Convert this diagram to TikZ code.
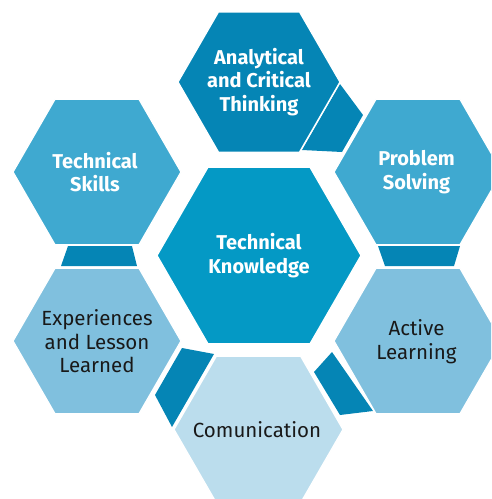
\documentclass[tikz,border=0pt]{standalone}
\usepackage{fontspec}
\setmainfont{Fira Sans}
\usetikzlibrary{shapes.geometric}
\definecolor{cDark}{HTML}{0585B5}
\definecolor{cCenter}{HTML}{0499C5}
\definecolor{cMid}{HTML}{3FA9D0}
\definecolor{cLight}{HTML}{80C0DE}
\definecolor{cPale}{HTML}{BBDDED}
\begin{document}
\begin{tikzpicture}[x=1pt,y=-1pt,
  hexa/.style={regular polygon, regular polygon sides=6,
    minimum size=#1, inner sep=0pt, draw=white, line width=1.3pt},
  boldtxt/.style={text=white, align=center, inner sep=0pt,
    font=\fontsize{20}{23.5}\selectfont\bfseries},
  plaintxt/.style={text=black!90, align=center, inner sep=0pt,
    font=\fontsize{20.5}{23.5}\selectfont},
  link/.style={fill=cDark}]
\useasboundingbox (0,0) rectangle (491,499);
\clip (0,0) rectangle (491,499);
% connectors
\fill[link] (340,84) -- (363,115) -- (342,152) -- (302,150) -- cycle;
\fill[link] (68,246) -- (132,246) -- (137,266) -- (61,266) -- cycle;
\fill[link] (378,246) -- (460,246) -- (454,266) -- (385,266) -- cycle;
\fill[link] (182,348) -- (214,354) -- (172,427) -- (155,395) -- cycle;
\fill[link] (332,352) -- (373,411) -- (340,415) -- (314,372) -- cycle;
% hexagons
\node[hexa=162, fill=cDark] (an) at (259,82) {};
\node[hexa=168, fill=cMid] (ts) at (97,172) {};
\node[hexa=168, fill=cMid] (ps) at (418,172) {};
\node[hexa=204, fill=cCenter] (tk) at (259,255.5) {};
\node[hexa=168, fill=cLight] (ex) at (97,341) {};
\node[hexa=168, fill=cLight] (al) at (418,341) {};
\node[hexa=169, fill=cPale] (co) at (258.5,429.5) {};
% texts
\node[boldtxt] (an-t) at (an) {Analytical\\and Critical\\Thinking};
\node[boldtxt] (ts-t) at (95,172) {Technical\\Skills};
\node[boldtxt] (ps-t) at (416.5,172) {Problem\\Solving};
\node[boldtxt] (tk-t) at (tk) {Technical\\Knowledge};
\node[plaintxt] (ex-t) at (97,341.5) {Experiences\\and Lesson\\Learned};
\node[plaintxt] (al-t) at (416.5,341.5) {Active\\Learning};
\node[plaintxt] (co-t) at (257,430) {Comunication};
\end{tikzpicture}
\end{document}
